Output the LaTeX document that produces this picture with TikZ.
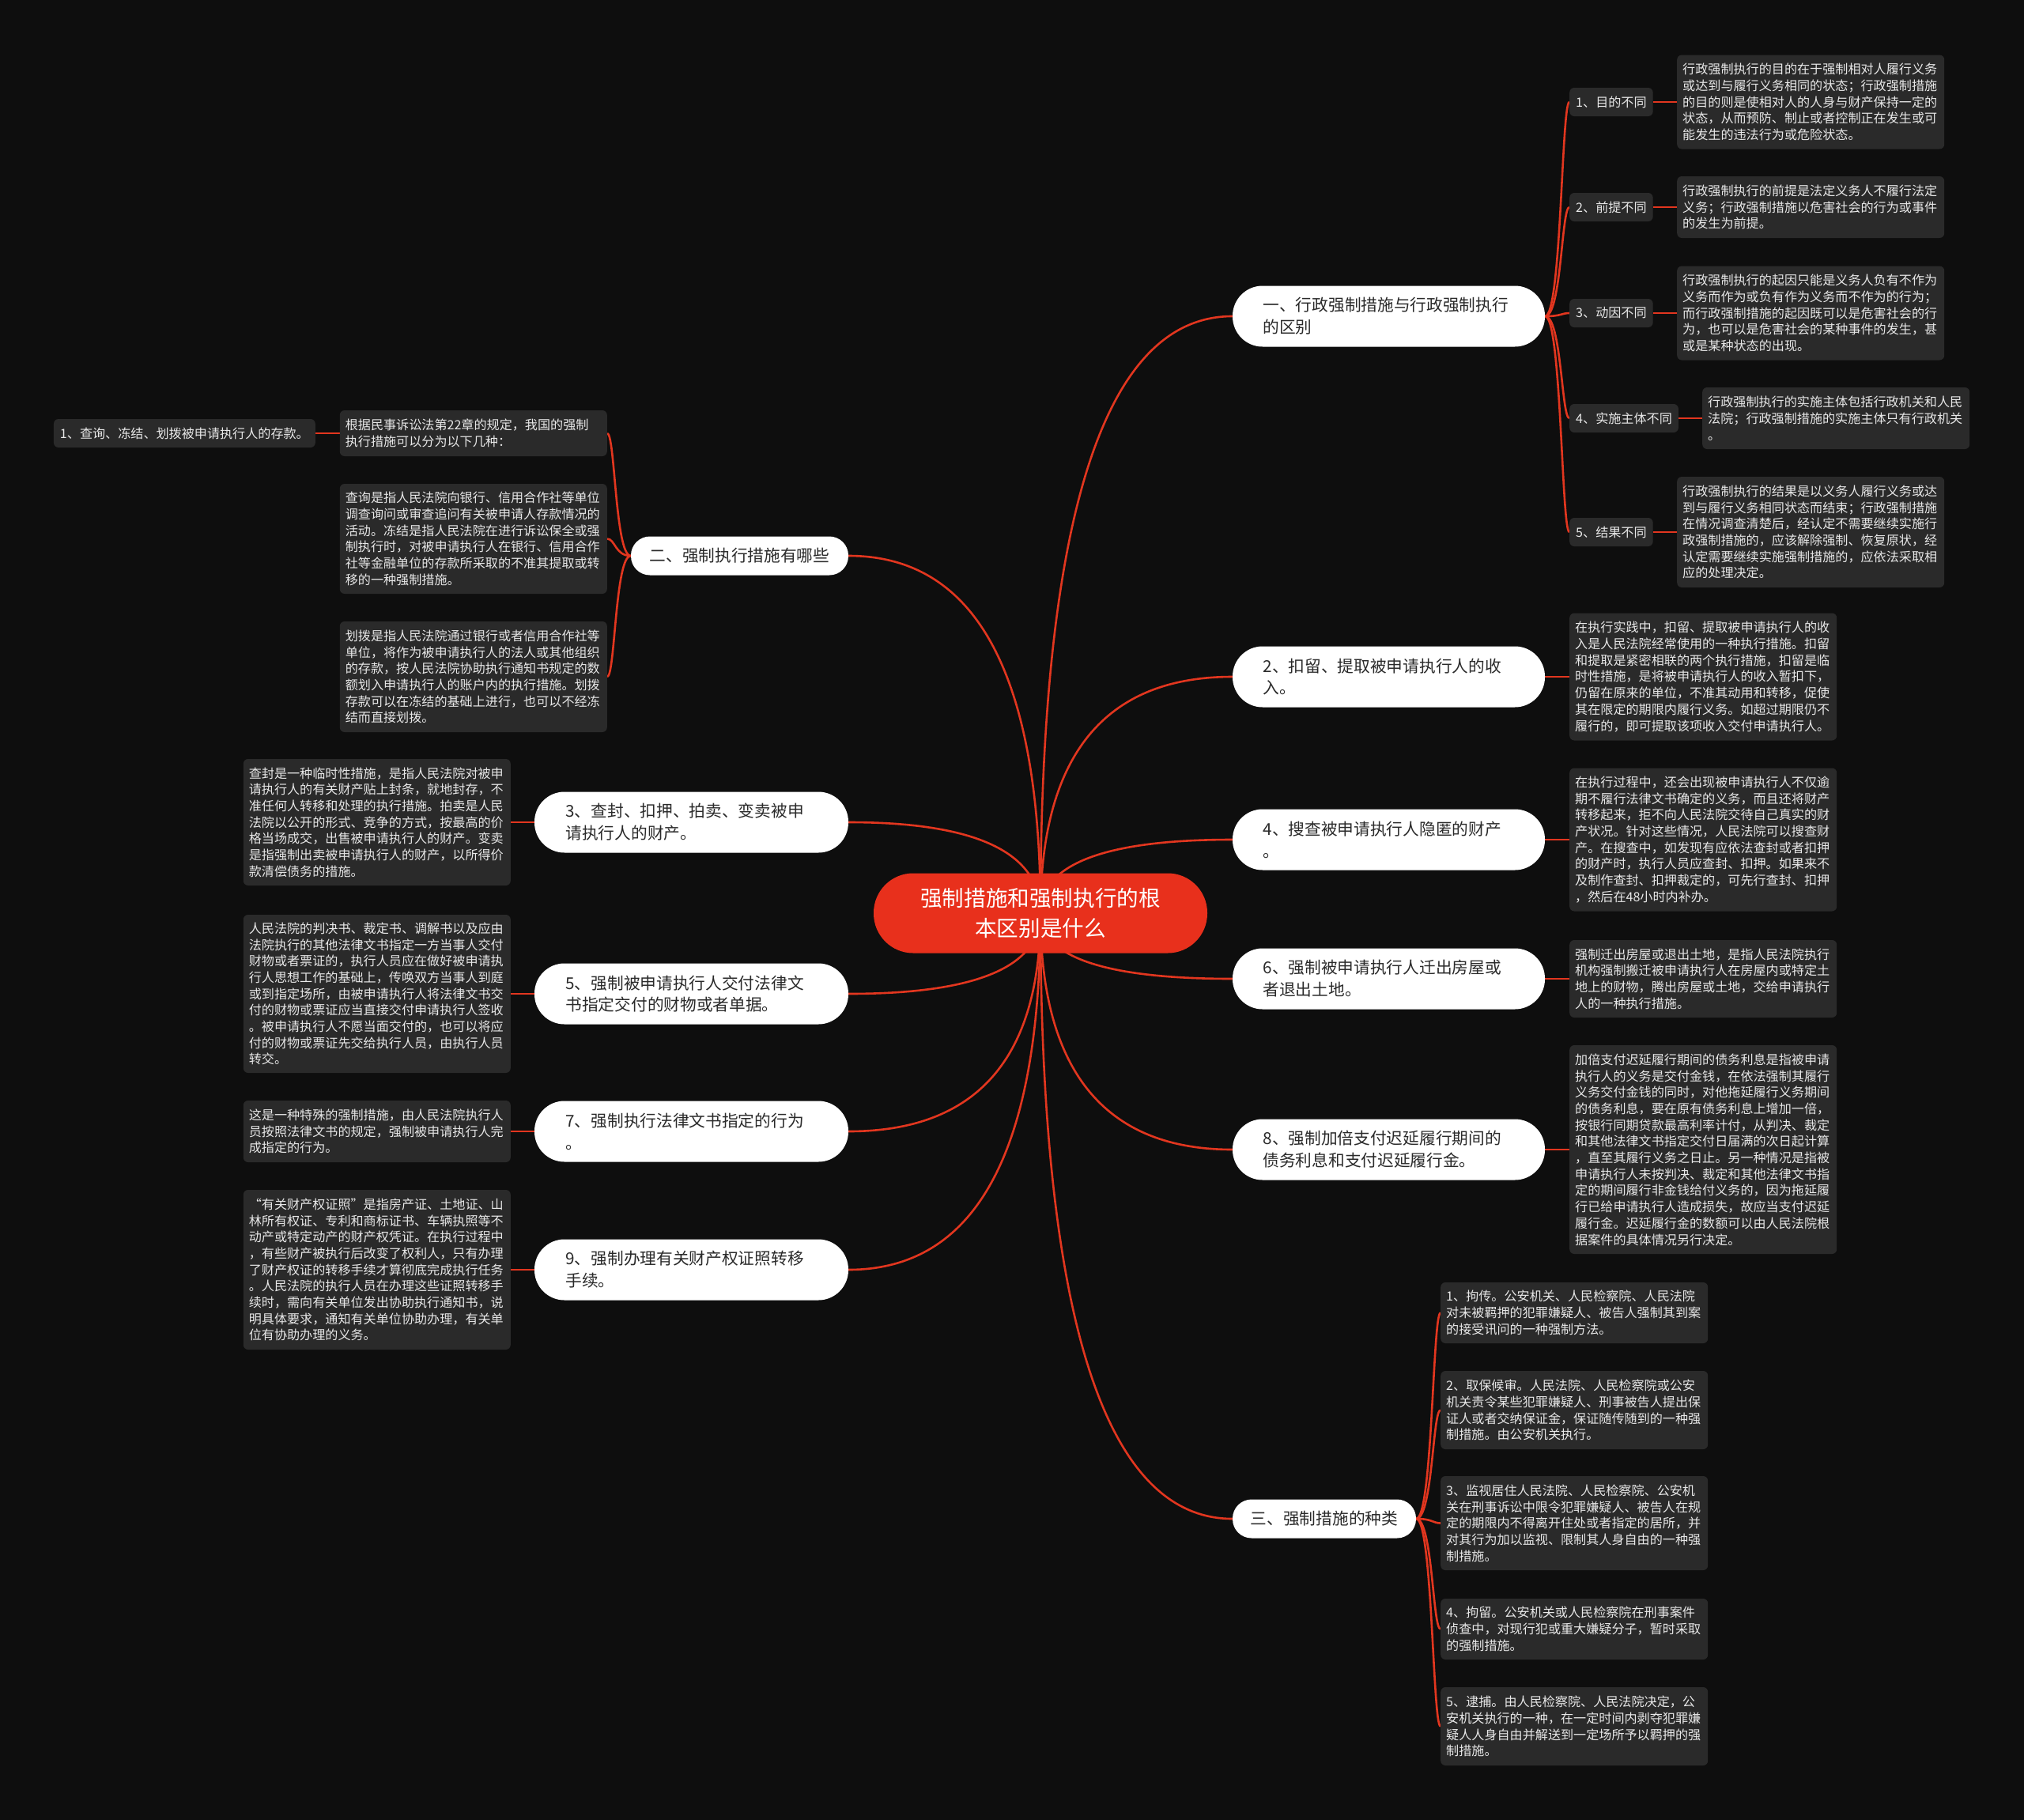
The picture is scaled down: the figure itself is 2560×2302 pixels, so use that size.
\documentclass[tikz,border=0pt]{standalone}
\usepackage{fontspec}
\setmainfont{Noto Sans CJK SC}
\definecolor{bgc}{HTML}{0E0E0E}
\definecolor{lred}{HTML}{E2361F}
\definecolor{cred}{HTML}{E8301C}
\definecolor{notebg}{HTML}{2A2A2A}
\definecolor{notetx}{HTML}{E8E8E8}
\definecolor{pilltx}{HTML}{2A2A2A}
\pgfdeclarelayer{bg}
\pgfdeclarelayer{lines}
\pgfsetlayers{bg,lines,main}
\tikzset{
  conn/.style={draw=lred, line width=2.6pt},
  rootnode/.style={fill=cred, text=white, rounded corners=50pt, minimum width=422pt, minimum height=101pt,
    align=center, inner sep=0pt, font=\fontsize{27.6pt}{38pt}\selectfont},
  pillone/.style={fill=white, text=pilltx, rounded corners=24pt, minimum height=49pt, inner sep=0pt,
    align=center, font=\fontsize{20.7pt}{27.8pt}\selectfont},
  pilltwo/.style={fill=white, text=pilltx, rounded corners=38pt, minimum height=77pt, inner sep=0pt,
    text width=318pt, align=left, font=\fontsize{20.7pt}{27.8pt}\selectfont},
  tag/.style={fill=notebg, text=notetx, rounded corners=6pt, minimum height=36pt, inner xsep=8pt, inner ysep=0pt,
    font=\fontsize{16.1pt}{20.7pt}\selectfont},
  note/.style={fill=notebg, text=notetx, rounded corners=6pt, text width=324pt, inner xsep=7pt, inner ysep=0pt,
    align=left, font=\fontsize{16.1pt}{20.7pt}\selectfont},
}
\begin{document}
\begin{tikzpicture}[x=1pt,y=-1pt]
\begin{pgfonlayer}{bg}
\fill[bgc] (0,0) rectangle (2560,2302);
\end{pgfonlayer}
\useasboundingbox (0,0) rectangle (2560,2302);

% root
\node[rootnode] (root) at (1316,1155) {强制措施和强制执行的根\\本区别是什么};

% right level-1
\node[pilltwo, minimum width=395pt] (a1) at (1756.5,400) {一、行政强制措施与行政强制执行\\的区别};
\node[pilltwo, minimum width=395pt] (a2) at (1756.5,856) {2、扣留、提取被申请执行人的收\\入。};
\node[pilltwo, minimum width=395pt] (a4) at (1756.5,1062) {4、搜查被申请执行人隐匿的财产\\。};
\node[pilltwo, minimum width=395pt] (a6) at (1756.5,1238) {6、强制被申请执行人迁出房屋或\\者退出土地。};
\node[pilltwo, minimum width=395pt] (a8) at (1756.5,1454) {8、强制加倍支付迟延履行期间的\\债务利息和支付迟延履行金。};
\node[pillone, minimum width=232pt] (a3) at (1675,1921) {三、强制措施的种类};

% left level-1
\node[pillone, minimum width=275pt] (b2) at (935.5,703) {二、强制执行措施有哪些};
\node[pilltwo, minimum width=397pt] (b3) at (874.5,1040) {3、查封、扣押、拍卖、变卖被申\\请执行人的财产。};
\node[pilltwo, minimum width=397pt] (b5) at (874.5,1257) {5、强制被申请执行人交付法律文\\书指定交付的财物或者单据。};
\node[pilltwo, minimum width=397pt] (b7) at (874.5,1431) {7、强制执行法律文书指定的行为\\。};
\node[pilltwo, minimum width=397pt] (b9) at (874.5,1606) {9、强制办理有关财产权证照转移\\手续。};

% level-2 under 一
\node[tag, anchor=west] (l1) at (1985,129) {1、目的不同};
\node[tag, anchor=west] (l2) at (1985,262) {2、前提不同};
\node[tag, anchor=west] (l3) at (1985,396) {3、动因不同};
\node[tag, anchor=west] (l4) at (1985,529) {4、实施主体不同};
\node[tag, anchor=west] (l5) at (1985,673) {5、结果不同};

\node[note, anchor=west, minimum height=119pt] (t1) at (2121,129) {行政强制执行的目的在于强制相对人履行义务\\或达到与履行义务相同的状态；行政强制措施\\的目的则是使相对人的人身与财产保持一定的\\状态，从而预防、制止或者控制正在发生或可\\能发生的违法行为或危险状态。};
\node[note, anchor=west, minimum height=78pt] (t2) at (2121,262) {行政强制执行的前提是法定义务人不履行法定\\义务；行政强制措施以危害社会的行为或事件\\的发生为前提。};
\node[note, anchor=west, minimum height=119pt] (t3) at (2121,396) {行政强制执行的起因只能是义务人负有不作为\\义务而作为或负有作为义务而不作为的行为；\\而行政强制措施的起因既可以是危害社会的行\\为，也可以是危害社会的某种事件的发生，甚\\或是某种状态的出现。};
\node[note, anchor=west, minimum height=78pt] (t4) at (2153,529) {行政强制执行的实施主体包括行政机关和人民\\法院；行政强制措施的实施主体只有行政机关\\。};
\node[note, anchor=west, minimum height=140pt] (t5) at (2121,673) {行政强制执行的结果是以义务人履行义务或达\\到与履行义务相同状态而结束；行政强制措施\\在情况调查清楚后，经认定不需要继续实施行\\政强制措施的，应该解除强制、恢复原状，经\\认定需要继续实施强制措施的，应依法采取相\\应的处理决定。};

% right notes
\node[note, anchor=west, minimum height=161pt] (m2) at (1985,856) {在执行实践中，扣留、提取被申请执行人的收\\入是人民法院经常使用的一种执行措施。扣留\\和提取是紧密相联的两个执行措施，扣留是临\\时性措施，是将被申请执行人的收入暂扣下，\\仍留在原来的单位，不准其动用和转移，促使\\其在限定的期限内履行义务。如超过期限仍不\\履行的，即可提取该项收入交付申请执行人。};
\node[note, anchor=west, minimum height=181pt] (m4) at (1985,1062) {在执行过程中，还会出现被申请执行人不仅逾\\期不履行法律文书确定的义务，而且还将财产\\转移起来，拒不向人民法院交待自己真实的财\\产状况。针对这些情况，人民法院可以搜查财\\产。在搜查中，如发现有应依法查封或者扣押\\的财产时，执行人员应查封、扣押。如果来不\\及制作查封、扣押裁定的，可先行查封、扣押\\，然后在48小时内补办。};
\node[note, anchor=west, minimum height=98pt] (m6) at (1985,1238) {强制迁出房屋或退出土地，是指人民法院执行\\机构强制搬迁被申请执行人在房屋内或特定土\\地上的财物，腾出房屋或土地，交给申请执行\\人的一种执行措施。};
\node[note, anchor=west, minimum height=264pt] (m8) at (1985,1454) {加倍支付迟延履行期间的债务利息是指被申请\\执行人的义务是交付金钱，在依法强制其履行\\义务交付金钱的同时，对他拖延履行义务期间\\的债务利息，要在原有债务利息上增加一倍，\\按银行同期贷款最高利率计付，从判决、裁定\\和其他法律文书指定交付日届满的次日起计算\\，直至其履行义务之日止。另一种情况是指被\\申请执行人未按判决、裁定和其他法律文书指\\定的期间履行非金钱给付义务的，因为拖延履\\行已给申请执行人造成损失，故应当支付迟延\\履行金。迟延履行金的数额可以由人民法院根\\据案件的具体情况另行决定。};

% notes under 三
\node[note, anchor=west, minimum height=77pt] (s1) at (1822,1660.5) {1、拘传。公安机关、人民检察院、人民法院\\对未被羁押的犯罪嫌疑人、被告人强制其到案\\的接受讯问的一种强制方法。};
\node[note, anchor=west, minimum height=99pt] (s2) at (1822,1783.5) {2、取保候审。人民法院、人民检察院或公安\\机关责令某些犯罪嫌疑人、刑事被告人提出保\\证人或者交纳保证金，保证随传随到的一种强\\制措施。由公安机关执行。};
\node[note, anchor=west, minimum height=119pt] (s3) at (1822,1926.5) {3、监视居住人民法院、人民检察院、公安机\\关在刑事诉讼中限令犯罪嫌疑人、被告人在规\\定的期限内不得离开住处或者指定的居所，并\\对其行为加以监视、限制其人身自由的一种强\\制措施。};
\node[note, anchor=west, minimum height=77pt] (s4) at (1822,2060.5) {4、拘留。公安机关或人民检察院在刑事案件\\侦查中，对现行犯或重大嫌疑分子，暂时采取\\的强制措施。};
\node[note, anchor=west, minimum height=99pt] (s5) at (1822,2183.5) {5、逮捕。由人民检察院、人民法院决定，公\\安机关执行的一种，在一定时间内剥夺犯罪嫌\\疑人人身自由并解送到一定场所予以羁押的强\\制措施。};

% left notes under 二
\node[note, anchor=east, minimum height=58pt] (k1) at (768,548) {根据民事诉讼法第22章的规定，我国的强制\\执行措施可以分为以下几种：};
\node[tag, anchor=east] (k0) at (399,548) {1、查询、冻结、划拨被申请执行人的存款。};
\node[note, anchor=east, minimum height=139pt] (k2) at (768,681.5) {查询是指人民法院向银行、信用合作社等单位\\调查询问或审查追问有关被申请人存款情况的\\活动。冻结是指人民法院在进行诉讼保全或强\\制执行时，对被申请执行人在银行、信用合作\\社等金融单位的存款所采取的不准其提取或转\\移的一种强制措施。};
\node[note, anchor=east, minimum height=140pt] (k3) at (768,856) {划拨是指人民法院通过银行或者信用合作社等\\单位，将作为被申请执行人的法人或其他组织\\的存款，按人民法院协助执行通知书规定的数\\额划入申请执行人的账户内的执行措施。划拨\\存款可以在冻结的基础上进行，也可以不经冻\\结而直接划拨。};

% left notes
\node[note, anchor=east, minimum height=160pt] (q3) at (646,1040) {查封是一种临时性措施，是指人民法院对被申\\请执行人的有关财产贴上封条，就地封存，不\\准任何人转移和处理的执行措施。拍卖是人民\\法院以公开的形式、竞争的方式，按最高的价\\格当场成交，出售被申请执行人的财产。变卖\\是指强制出卖被申请执行人的财产，以所得价\\款清偿债务的措施。};
\node[note, anchor=east, minimum height=200pt] (q5) at (646,1257) {人民法院的判决书、裁定书、调解书以及应由\\法院执行的其他法律文书指定一方当事人交付\\财物或者票证的，执行人员应在做好被申请执\\行人思想工作的基础上，传唤双方当事人到庭\\或到指定场所，由被申请执行人将法律文书交\\付的财物或票证应当直接交付申请执行人签收\\。被申请执行人不愿当面交付的，也可以将应\\付的财物或票证先交给执行人员，由执行人员\\转交。};
\node[note, anchor=east, minimum height=78pt] (q7) at (646,1431) {这是一种特殊的强制措施，由人民法院执行人\\员按照法律文书的规定，强制被申请执行人完\\成指定的行为。};
\node[note, anchor=east, minimum height=202pt] (q9) at (646,1606) {“有关财产权证照”是指房产证、土地证、山\\林所有权证、专利和商标证书、车辆执照等不\\动产或特定动产的财产权凭证。在执行过程中\\，有些财产被执行后改变了权利人，只有办理\\了财产权证的转移手续才算彻底完成执行任务\\。人民法院的执行人员在办理这些证照转移手\\续时，需向有关单位发出协助执行通知书，说\\明具体要求，通知有关单位协助办理，有关单\\位有协助办理的义务。};

\begin{pgfonlayer}{lines}
% root to level-1
\draw[conn] (root.center) .. controls (1316,651.7) and (1397,400) .. (a1.west);
\draw[conn] (root.center) .. controls (1316,955.7) and (1397,856) .. (a2.west);
\draw[conn] (root.center) .. controls (1316,1093) and (1397,1062) .. (a4.west);
\draw[conn] (root.center) .. controls (1316,1210.3) and (1397,1238) .. (a6.west);
\draw[conn] (root.center) .. controls (1316,1354.3) and (1397,1454) .. (a8.west);
\draw[conn] (root.center) .. controls (1316,1665.7) and (1397,1921) .. (a3.west);
\draw[conn] (root.center) .. controls (1316,853.7) and (1235,703) .. (b2.east);
\draw[conn] (root.center) .. controls (1316,1078.3) and (1235,1040) .. (b3.east);
\draw[conn] (root.center) .. controls (1316,1223) and (1235,1257) .. (b5.east);
\draw[conn] (root.center) .. controls (1316,1339) and (1235,1431) .. (b7.east);
\draw[conn] (root.center) .. controls (1316,1455.7) and (1235,1606) .. (b9.east);
% 一 to labels
\draw[conn] (a1.east) .. controls (1975,400) and (1975,129) .. (l1.west);
\draw[conn] (a1.east) .. controls (1975,400) and (1975,262) .. (l2.west);
\draw[conn] (a1.east) .. controls (1975,400) and (1975,396) .. (l3.west);
\draw[conn] (a1.east) .. controls (1975,400) and (1975,529) .. (l4.west);
\draw[conn] (a1.east) .. controls (1975,400) and (1975,673) .. (l5.west);
\draw[conn] (l1.east) -- (t1.west);
\draw[conn] (l2.east) -- (t2.west);
\draw[conn] (l3.east) -- (t3.west);
\draw[conn] (l4.east) -- (t4.west);
\draw[conn] (l5.east) -- (t5.west);
% right notes
\draw[conn] (a2.east) -- (m2.west);
\draw[conn] (a4.east) -- (m4.west);
\draw[conn] (a6.east) -- (m6.west);
\draw[conn] (a8.east) -- (m8.west);
% 三 to children
\draw[conn] (a3.east) .. controls (1812,1921) and (1812,1660.5) .. (s1.west);
\draw[conn] (a3.east) .. controls (1812,1921) and (1812,1783.5) .. (s2.west);
\draw[conn] (a3.east) .. controls (1812,1921) and (1812,1926.5) .. (s3.west);
\draw[conn] (a3.east) .. controls (1812,1921) and (1812,2060.5) .. (s4.west);
\draw[conn] (a3.east) .. controls (1812,1921) and (1812,2183.5) .. (s5.west);
% 二 to children
\draw[conn] (b2.west) .. controls (778,703) and (778,548) .. (k1.east);
\draw[conn] (b2.west) .. controls (778,703) and (778,681.5) .. (k2.east);
\draw[conn] (b2.west) .. controls (778,703) and (778,856) .. (k3.east);
\draw[conn] (k1.west) -- (k0.east);
% left notes
\draw[conn] (b3.west) -- (q3.east);
\draw[conn] (b5.west) -- (q5.east);
\draw[conn] (b7.west) -- (q7.east);
\draw[conn] (b9.west) -- (q9.east);
\end{pgfonlayer}
\end{tikzpicture}
\end{document}
